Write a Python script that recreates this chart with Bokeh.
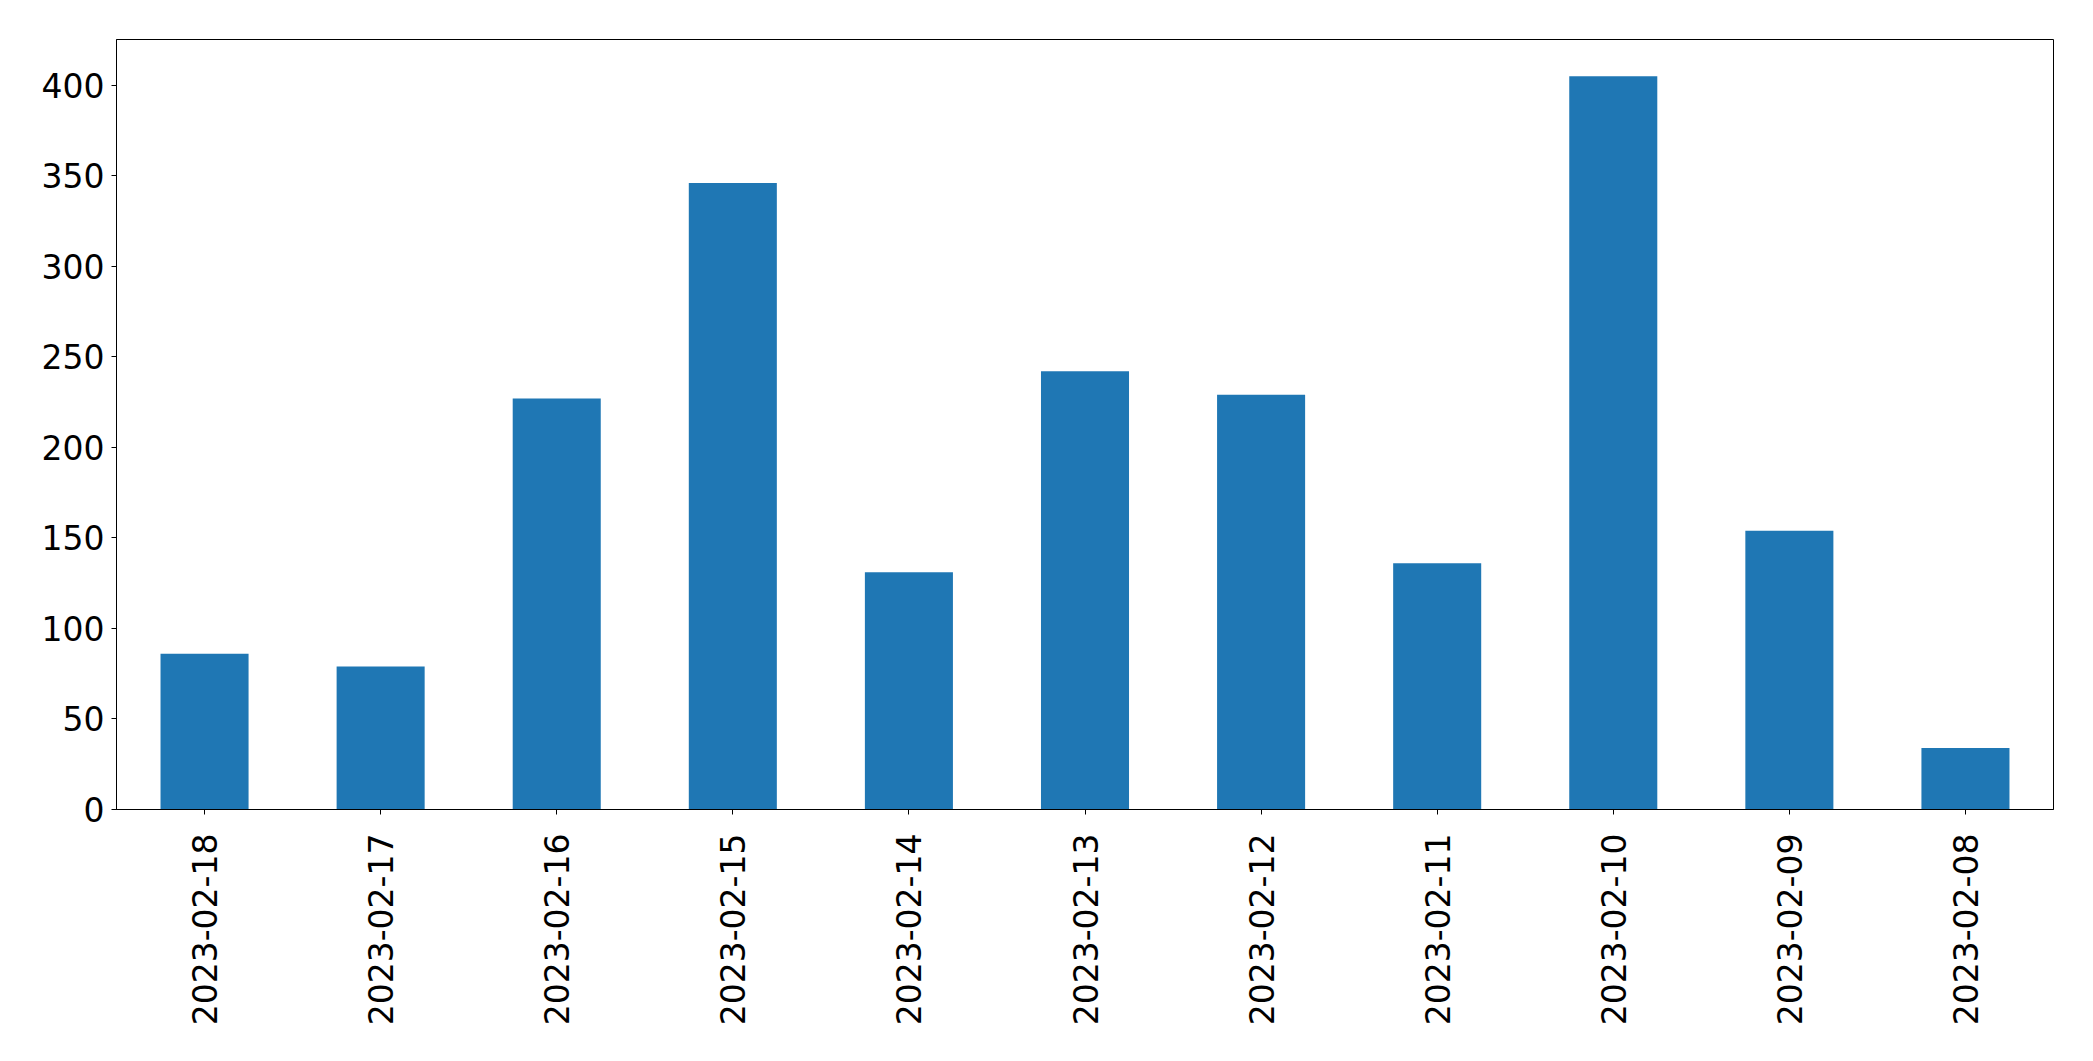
import math
from bokeh.plotting import figure
from bokeh.models import FactorRange, Range1d, SingleIntervalTicker, ColumnDataSource
from bokeh.embed import file_html
from bokeh.resources import INLINE

dates = ["2023-02-18", "2023-02-17", "2023-02-16", "2023-02-15", "2023-02-14",
         "2023-02-13", "2023-02-12", "2023-02-11", "2023-02-10", "2023-02-09",
         "2023-02-08"]
counts = [86, 79, 227, 346, 131, 242, 229, 136, 405, 154, 34]

src = ColumnDataSource(dict(date=dates, count=counts))

W, H = 2077, 1045
p = figure(x_range=FactorRange(*dates, range_padding=0),
           y_range=Range1d(0, max(counts) * 1.05),
           width=W, height=H, output_backend="svg", toolbar_location=None,
           min_border_left=116, min_border_right=24, min_border_top=39,
           min_border_bottom=236)
p.x_range.factor_padding = 0
p.vbar(x="date", top="count", width=0.5, source=src, color="#1f77b4", line_color=None)

p.xgrid.visible = False
p.ygrid.visible = False
p.outline_line_color = "black"
p.outline_line_width = 1
p.outline_line_alpha = 1
p.background_fill_color = "white"
p.border_fill_color = "white"

p.yaxis.ticker = SingleIntervalTicker(interval=50)
for ax in (p.xaxis, p.yaxis):
    ax.major_label_text_font = "DejaVu Sans"
    ax.major_label_text_font_size = "33px"
    ax.major_label_text_color = "black"
    ax.axis_line_color = "black"
    ax.axis_line_width = 1
    ax.major_tick_line_color = "black"
    ax.major_tick_line_width = 1
    ax.major_tick_out = 5
    ax.major_tick_in = 0
    ax.minor_tick_line_color = None
p.yaxis.major_label_standoff = 7
p.xaxis.major_label_standoff = 19
p.xaxis.major_label_orientation = math.pi / 2

open("out.html", "w").write(file_html(p, INLINE))
